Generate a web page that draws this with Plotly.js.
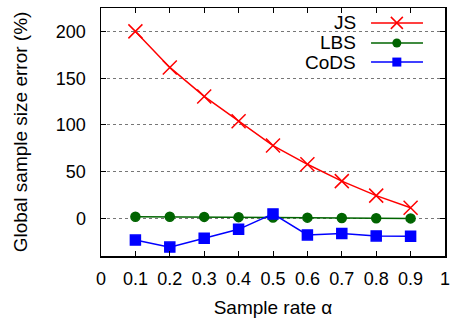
<!DOCTYPE html>
<html><head><meta charset="utf-8">
<script src="https://cdn.plot.ly/plotly-3.0.1.min.js"></script>
<style>html,body{margin:0;padding:0;background:#fff}</style>
</head><body><div id="chart" style="width:451px;height:320px"></div>
<script>
const sampleRates = [0.1,0.2,0.3,0.4,0.5,0.6,0.7,0.8,0.9];
const jsError   = [200,161.5,130.5,104,78,58,40,24.5,11.5];
const lbsError  = [2,2,1.8,1.5,1.2,1,0.6,0.3,0.2];
const codsError = [-23,-30.5,-21,-11.5,5,-17.5,-16,-18.5,-19];
const seriesNames = ['JS','LBS','CoDS'];
const colors = ['#ff0000','#006400','#0000ff'];
const symbols = ['x-thin','circle','square'];
const sizes = [14,9,10];
const allSeries = [jsError, lbsError, codsError];
const xTicks = [0,0.1,0.2,0.3,0.4,0.5,0.6,0.7,0.8,0.9,1];
const xTickText = ['0','0.1','0.2','0.3','0.4','0.5','0.6','0.7','0.8','0.9','1'];
const yTicks = [0,50,100,150,200];

const traces = allSeries.map((ys,i)=>({
  x: sampleRates, y: ys, type:'scatter', mode:'lines+markers', name: seriesNames[i],
  line:{color:colors[i], width:1.5},
  marker:{symbol:symbols[i], size:sizes[i], color:colors[i], line:{color:colors[i], width:1.5}},
  showlegend:false, cliponaxis:false
}));

const FAM = 'Liberation Sans, Arial, sans-serif';
const shapes = [{type:'rect', xref:'paper', yref:'paper', x0:0.608, x1:0.965, y0:0.74, y1:0.985, fillcolor:'#fff', line:{width:0}, layer:'between'}];
const annotations = [];
const rowY = [0.94, 0.859, 0.782];
const lx0 = 0.785, lx1 = 0.936, lxm = 0.86;
seriesNames.forEach((n,i)=>{
  annotations.push({xref:'paper', yref:'paper', x:0.746, y:rowY[i], text:n, showarrow:false, xanchor:'right', yanchor:'middle', font:{family:FAM, size:19, color:'#000'}});
  shapes.push({type:'line', xref:'paper', yref:'paper', x0:lx0, x1:lx1, y0:rowY[i], y1:rowY[i], line:{color:colors[i], width:1.5}});
});
const W=344, H=248;
const dx = 6/W, dy = 6/H;
shapes.push({type:'line', xref:'paper', yref:'paper', x0:lxm-dx, x1:lxm+dx, y0:rowY[0]-dy, y1:rowY[0]+dy, line:{color:colors[0], width:1.5}});
shapes.push({type:'line', xref:'paper', yref:'paper', x0:lxm-dx, x1:lxm+dx, y0:rowY[0]+dy, y1:rowY[0]-dy, line:{color:colors[0], width:1.5}});
shapes.push({type:'circle', xref:'paper', yref:'paper', x0:lxm-4.5/W, x1:lxm+4.5/W, y0:rowY[1]-4.5/H, y1:rowY[1]+4.5/H, fillcolor:colors[1], line:{color:colors[1], width:0}});
shapes.push({type:'rect', xref:'paper', yref:'paper', x0:lxm-4.5/W, x1:lxm+4.5/W, y0:rowY[2]-4.5/H, y1:rowY[2]+4.5/H, fillcolor:colors[2], line:{color:colors[2], width:0}});

const tickFont = {family:FAM, size:18, color:'#000'};
const titleFont = {family:FAM, size:19, color:'#000'};
const layout = {
  width:451, height:320,
  margin:{l:101, r:6, t:8, b:64},
  paper_bgcolor:'#fff', plot_bgcolor:'#fff',
  font: tickFont,
  showlegend:false,
  xaxis:{range:[0,1], tickvals:xTicks, ticktext:xTickText, ticks:'inside', ticklen:5, tickcolor:'#000',
    showline:true, linecolor:'#000', linewidth:1.5, mirror:'ticks', showgrid:false, zeroline:false,
    ticklabelstandoff:6,
    tickfont:tickFont, title:{text:'Sample rate α', font:titleFont, standoff:12}},
  yaxis:{range:[-40,225], tickvals:yTicks, ticks:'inside', ticklen:5, tickcolor:'#000',
    showline:true, linecolor:'#000', linewidth:1.5, mirror:'ticks', showgrid:true, gridcolor:'#777', griddash:'dot', gridwidth:1,
    ticklabelstandoff:10,
    zeroline:false, tickfont:tickFont, title:{text:'Global sample size error (%)', font:titleFont, standoff:23}},
  shapes: shapes, annotations: annotations
};
Plotly.newPlot('chart', traces, layout, {displayModeBar:false, staticPlot:true});
</script></body></html>
